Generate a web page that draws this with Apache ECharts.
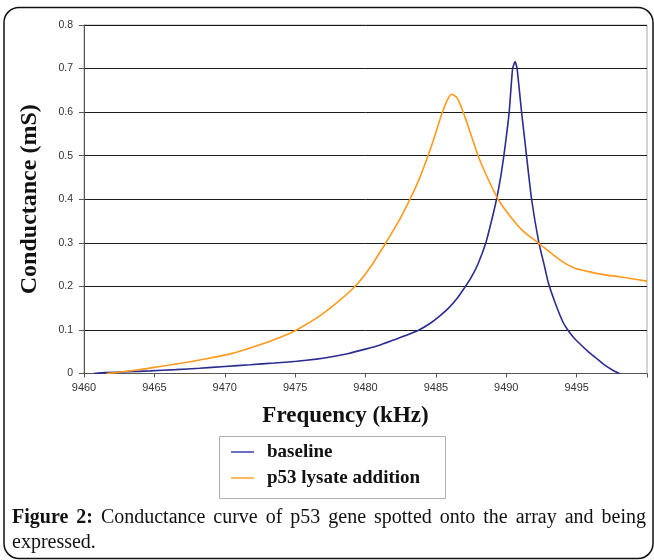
<!DOCTYPE html>
<html>
<head>
<meta charset="utf-8">
<script src="https://cdn.jsdelivr.net/npm/echarts@6/dist/echarts.min.js"></script>
<style>
html,body{margin:0;padding:0;background:#fff;}
#chart{width:654px;height:560px;}
</style>
</head>
<body>
<div id="chart"></div>
<script>
// ---- data ----
const baselineFreq = [9460.7,9461.5,9463.0,9464.7,9466.5,9468.2,9470.0,9471.8,9473.5,9475.1,9476.5,9477.5,9478.8,9480.0,9481.0,9482.0,9483.0,9483.8,9484.5,9485.2,9485.9,9486.5,9487.0,9487.5,9488.0,9488.55,9488.95,9489.31,9489.6,9489.83,9490.03,9490.21,9490.45,9490.63,9490.77,9491.09,9491.44,9491.8,9492.32,9492.69,9493.0,9493.5,9494.0,9494.35,9494.8,9495.3,9495.8,9496.4,9497.0,9497.6,9498.05];
const baselineCond = [0.000,0.002,0.004,0.006,0.009,0.012,0.016,0.020,0.024,0.028,0.033,0.038,0.046,0.056,0.065,0.077,0.089,0.100,0.113,0.130,0.150,0.172,0.195,0.220,0.252,0.300,0.350,0.400,0.450,0.500,0.550,0.600,0.700,0.716,0.700,0.600,0.500,0.400,0.300,0.250,0.207,0.160,0.120,0.101,0.082,0.066,0.051,0.035,0.019,0.007,0.000];

const lysateFreq = [9461.6,9462.5,9464.0,9465.4,9467.0,9468.2,9470.4,9472.5,9474.0,9475.1,9476.7,9478.1,9479.4,9480.3,9481.35,9482.4,9483.13,9483.84,9484.5,9484.95,9485.4,9485.8,9486.1,9486.5,9486.94,9487.5,9488.0,9488.7,9489.42,9490.3,9491.2,9492.27,9493.8,9494.8,9495.7,9496.9,9498.05,9500.0];
const lysateCond = [0.000,0.003,0.009,0.016,0.024,0.031,0.045,0.066,0.084,0.100,0.131,0.166,0.205,0.242,0.295,0.352,0.398,0.448,0.505,0.548,0.594,0.627,0.641,0.633,0.600,0.548,0.500,0.447,0.400,0.360,0.327,0.300,0.261,0.243,0.235,0.227,0.222,0.212];

const seriesNames = ['baseline', 'p53 lysate addition'];
const xTickMin = 9460, xTickMax = 9500, xTickStep = 5;
const yTickMin = 0, yTickMax = 0.8, yTickStep = 0.1;
const captionBold = ['Figure', '2:'];
const captionLine1 = ['Conductance','curve','of','p53','gene','spotted','onto','the','array','and','being'];
const captionLine2 = 'expressed.';
const xTitle = 'Frequency (kHz)';
const yTitle = 'Conductance (mS)';

// ---- build ----
const zip = (a, b) => a.map((v, i) => [v, b[i]]);

const ctx = document.createElement('canvas').getContext('2d');
function measure(t, bold) {
  ctx.font = (bold ? 'bold ' : '') + '20px "Liberation Serif"';
  return ctx.measureText(t).width;
}
const capWords = captionBold.map(t => ({t, b: true})).concat(captionLine1.map(t => ({t, b: false})));
const capLeft = 12, capRight = 646;
const totalW = capWords.reduce((s, w) => s + measure(w.t, w.b), 0);
const gap = (capRight - capLeft - totalW) / (capWords.length - 1);
const captionEls = [];
let cx = capLeft;
capWords.forEach(w => {
  captionEls.push({
    type: 'text', x: cx, y: 518,
    style: { text: w.t, font: (w.b ? 'bold ' : '') + '20px "Liberation Serif"', fill: '#111', verticalAlign: 'middle', align: 'left' }
  });
  cx += measure(w.t, w.b) + gap;
});
captionEls.push({
  type: 'text', x: capLeft, y: 543,
  style: { text: captionLine2, font: '20px "Liberation Serif"', fill: '#111', verticalAlign: 'middle', align: 'left' }
});

const chart = echarts.init(document.getElementById('chart'), null, { renderer: 'canvas' });
const option = {
  animation: false,
  backgroundColor: '#fff',
  grid: { left: 84, right: 7, top: 25, bottom: 186.5, show: true, borderColor: '#a8a8a8', borderWidth: 1, containLabel: false },
  xAxis: {
    type: 'value', min: xTickMin, max: xTickMax, interval: xTickStep,
    name: xTitle, nameLocation: 'middle', nameGap: 31,
    nameTextStyle: { fontFamily: 'Liberation Serif', fontWeight: 'bold', fontSize: 23, color: '#111', padding: [0, 40, 0, 0] },
    axisLine: { show: true, onZero: false, lineStyle: { color: '#555', width: 1 } },
    axisTick: { show: true, length: 4, lineStyle: { color: '#555' } },
    axisLabel: { margin: 9, fontFamily: 'Liberation Sans', fontSize: 11, color: '#333',
      formatter: v => (v >= xTickMax ? '' : String(v)) },
    splitLine: { show: false }
  },
  yAxis: {
    type: 'value', min: yTickMin, max: yTickMax, interval: yTickStep,
    name: yTitle, nameLocation: 'middle', nameGap: 42, nameRotate: 90,
    nameTextStyle: { fontFamily: 'Liberation Serif', fontWeight: 'bold', fontSize: 24, color: '#111' },
    axisLine: { show: true, lineStyle: { color: '#555', width: 1 } },
    axisTick: { show: true, length: 5, lineStyle: { color: '#555' } },
    axisLabel: { margin: 11, fontFamily: 'Liberation Sans', fontSize: 10.5, color: '#333',
      formatter: v => (v === 0 ? '0' : v.toFixed(1)) },
    splitLine: { show: true, lineStyle: { color: '#1a1a1a', width: 1 } }
  },
  legend: {
    orient: 'vertical', left: 231, top: 441, padding: 0, itemGap: 4,
    itemWidth: 23, itemHeight: 1.6, icon: 'rect',
    data: seriesNames,
    textStyle: { fontFamily: 'Liberation Serif', fontWeight: 'bold', fontSize: 19, color: '#111', lineHeight: 22, padding: [0, 0, 0, 8] }
  },
  series: [
    { name: seriesNames[0], type: 'line', data: zip(baselineFreq, baselineCond), showSymbol: false, symbol: 'none',
      smooth: 0.15, lineStyle: { color: '#2a2c90', width: 1.6 }, itemStyle: { color: '#4a4cb0' } },
    { name: seriesNames[1], type: 'line', data: zip(lysateFreq, lysateCond), showSymbol: false, symbol: 'none',
      smooth: 0.25, lineStyle: { color: '#ff9a1c', width: 1.6 }, itemStyle: { color: '#ffaa33' } }
  ],
  graphic: [
    { type: 'rect', shape: { x: 4, y: 7.5, width: 649, height: 551, r: 15 }, style: { fill: 'none', stroke: '#111', lineWidth: 1.5 }, silent: true },
    { type: 'rect', shape: { x: 219.5, y: 436.5, width: 226, height: 62 }, style: { fill: 'none', stroke: '#b0b0b0', lineWidth: 1 }, silent: true }
  ].concat(captionEls)
};
chart.setOption(option);
</script>
</body>
</html>
